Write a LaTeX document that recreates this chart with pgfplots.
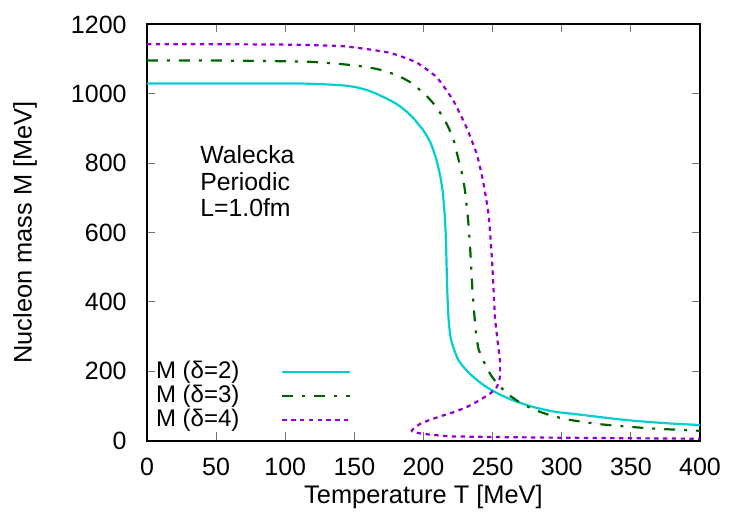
\documentclass[border=0pt]{standalone}
\usepackage{fontspec}
\setmainfont{Liberation Sans}
\usepackage{pgfplots}
\pgfplotsset{compat=1.18}
\definecolor{cy}{HTML}{00CED1}
\definecolor{dg}{HTML}{006400}
\definecolor{dv}{HTML}{9400D3}
\begin{document}
\fontsize{12.5bp}{14bp}\selectfont
\begin{tikzpicture}
\path[use as bounding box] (-73.5bp,-42.25bp) rectangle (301.5bp,220.25bp);
\begin{axis}[
 at={(0,0)}, anchor=south west,
 scale only axis, width=276.5bp, height=208bp,
 xmin=0, xmax=400, ymin=0, ymax=1200,
 xtick={0,50,...,400}, ytick={0,200,...,1200},
 minor tick num=0,
 tick align=inside, major tick length=4bp,
 tick style={black!55, line width=0.5bp},
 axis line style={line width=1bp},
 /pgf/number format/assume math mode=true,
 /pgf/number format/1000 sep={},
 xticklabel style={inner sep=0pt, yshift=-8.75bp},
 yticklabel style={inner sep=0pt, xshift=-10bp},
 xlabel={Temperature T [MeV]},
 ylabel={Nucleon mass M [MeV]},
 xlabel style={at={(axis description cs:0.5,-0.1358)}, anchor=center, inner sep=0pt,
   font=\fontsize{12.7bp}{14bp}\selectfont},
 ylabel style={at={(axis description cs:-0.2206,0.5)}, anchor=center, inner sep=0pt,
   font=\fontsize{12.7bp}{14bp}\selectfont},
 legend plot pos=right,
 legend cell align=right,
 legend style={draw=none, fill=none, inner sep=0pt,
   at={(axis description cs:0.3707,0.107)}, anchor=east,
   row sep=1.5bp, column sep=21bp, nodes={inner sep=0pt},
   font=\fontsize{12bp}{14bp}\selectfont},
 legend image code/.code={\draw[#1] (0bp,0bp) -- (34bp,0bp);},
]
\addplot[cy, line width=1.1bp, smooth, tension=0.3] coordinates {
(0,1030) (50,1030) (100,1030) (120,1029) (140,1025) (150,1020) (159,1011)
(166,1000) (173,987) (180,972) (185,958) (192,933) (200,894) (205,860)
(209,815) (212,765) (214,715) (215.6,635) (216.3,570) (216.8,490)
(217.3,420) (218,360) (218.6,330) (219.5,300) (220.7,280) (222.5,258)
(225,234) (228,216.5)
(231,203) (234,190.7) (238.5,175) (243,161.3) (248,148.3) (255.3,132.4)
(265,115.5) (279.4,96.5) (295,83) (315.6,73.5) (335,64) (351.8,57)
(375,50) (400,44.5)};
\addlegendentry{M (δ=2)}
\addplot[dg, line width=1.1bp, dash pattern=on 5.5bp off 4.5bp on 1.5bp off 4.5bp, smooth, tension=0.3] coordinates {
(0,1096) (50,1096) (100,1094) (120,1092) (140,1086) (154,1080) (167,1071)
(180,1055) (191,1032) (202,995) (209.5,961) (216.7,914) (221.5,871)
(225,816) (227.6,774) (230,721) (232.3,635) (233.7,558) (234.5,500)
(235.3,440) (236.5,375) (238,310) (239.6,267) (242,241) (245.6,211)
(249,187) (253,166) (257.5,147) (262.6,129) (270,109) (279.4,90) (290,75)
(303.5,61) (327.6,47) (363.8,35) (400,28)};
\addlegendentry{M (δ=3)}
\addplot[dv, line width=1.1bp, dash pattern=on 2.2bp off 2.2bp, smooth, tension=0.3] coordinates {
(0,1143) (50,1143) (100,1142) (140,1138) (161,1128) (176,1118) (188,1102)
(196,1088) (209.5,1048) (221.5,981) (231,904) (238.5,827) (243,750)
(247,654) (249.3,538) (250.5,450) (251.7,356) (253.5,290) (255.3,231)
(255.3,183) (253,154) (248,135) (240,115) (231,96) (222,82) (214,72)
(205,60) (197.5,48) (191.5,29) (193,24) (200,19) (210,15) (219,12)
(235,11) (250,10) (300,8) (350,6.5) (400,5)};
\addlegendentry{M (δ=4)}
\node[anchor=north west, inner sep=0pt, align=left,
  font=\fontsize{12.4bp}{13.35bp}\selectfont] at (axis cs:38.3,852)
  {Walecka\\Periodic\\L=1.0fm};
\end{axis}
\end{tikzpicture}
\end{document}
